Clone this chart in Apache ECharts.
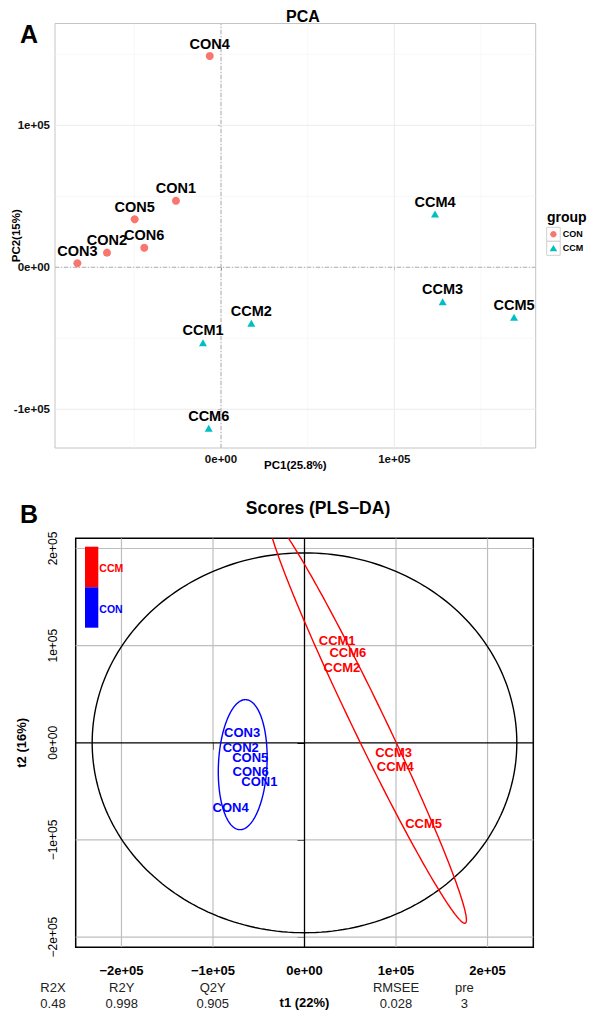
<!DOCTYPE html>
<html>
<head>
<meta charset="utf-8">
<script src="https://cdn.jsdelivr.net/npm/echarts@6/dist/echarts.min.js"></script>
<style>
  html, body { margin: 0; padding: 0; background: #fff; }
  #chart { width: 597px; height: 1014px; }
</style>
</head>
<body>
<div id="chart"></div>
<script>
// --- panel A: PCA scores ---
const conNames = ['CON1', 'CON2', 'CON3', 'CON4', 'CON5', 'CON6'];
const conPC1 = [-26000, -65800, -82900, -6500, -49800, -44300];
const conPC2 = [46900, 10300, 2800, 148800, 33800, 13800];
const ccmNames = ['CCM1', 'CCM2', 'CCM3', 'CCM4', 'CCM5', 'CCM6'];
const ccmPC1 = [-10400, 17500, 127900, 123500, 169100, -7100];
const ccmPC2 = [-53100, -39400, -24200, 37500, -35200, -113400];
const pcaTicksX = [0, 100000];
const pcaTicksY = [-100000, 0, 100000];
const pcaMinorX = [-50000, 50000, 150000];
const pcaMinorY = [-50000, 50000, 150000];

// --- panel B: PLS-DA scores ---
const plsConT1 = [-49300, -69700, -68100, -80700, -59300, -58800];
const plsConT2 = [-39600, -4900, 10500, -66100, -15200, -30000];
const plsCcmT1 = [35700, 40900, 97300, 99100, 130100, 47400];
const plsCcmT2 = [104800, 77700, -10100, -23900, -83100, 93100];
const plsTicks = [-200000, -100000, 0, 100000, 200000];

// ellipses: Hotelling T2, CON group, CCM group (centre, semi-axes, angle in degrees)
const ellCx = [0, -67500, 68900];
const ellCy = [0, -22500, 23200];
const ellA = [232000, 67000, 234600];
const ellB = [195500, 26500, 17600];
const ellAngle = [0, 87, -62.9];
const ellColors = ['#000000', '#0000ff', '#ff0000'];

// model summary
const statNames = ['R2X', 'R2Y', 'Q2Y', 'RMSEE', 'pre'];
const statValues = ['0.48', '0.998', '0.905', '0.028', '3'];

const FONT = '"Liberation Sans", Arial, Helvetica, sans-serif';

function sci(v, minus) {
  if (v === 0) return '0e+00';
  const e = Math.floor(Math.log10(Math.abs(v)));
  const m = Math.round(Math.abs(v) / Math.pow(10, e));
  return (v < 0 ? minus : '') + m + 'e+' + String(e).padStart(2, '0');
}

// straight reference lines drawn through the axes' own scales
function refLines(gi, dir, values, extent, color, width, dash) {
  return {
    type: 'custom',
    xAxisIndex: gi,
    yAxisIndex: gi,
    silent: true,
    clip: true,
    z: 1,
    data: values.map(v => [v, v]),
    renderItem: (params, api) => {
      const v = api.value(0);
      const p1 = dir === 'x' ? api.coord([v, extent[0]]) : api.coord([extent[0], v]);
      const p2 = dir === 'x' ? api.coord([v, extent[1]]) : api.coord([extent[1], v]);
      return {
        type: 'line',
        shape: { x1: p1[0], y1: p1[1], x2: p2[0], y2: p2[1] },
        style: { stroke: color, lineWidth: width, lineDash: dash || null }
      };
    }
  };
}

const pcaX = [-95800, 181600];
const pcaY = [-127300, 171700];
const plsX = [-250000, 250000];
const plsY = [-210500, 210500];

const chart = echarts.init(document.getElementById('chart'), null, { renderer: 'svg' });

chart.setOption({
  animation: false,
  textStyle: { fontFamily: FONT },
  title: [
    { text: 'PCA', left: 298, top: 3, textAlign: 'center',
      textStyle: { fontSize: 16, fontWeight: 'bold', color: '#000', fontFamily: FONT } },
    { text: 'Scores (PLS\u2212DA)', left: 313, top: 494, textAlign: 'center',
      textStyle: { fontSize: 17.5, fontWeight: 'bold', color: '#000', fontFamily: FONT } }
  ],
  grid: [
    { left: 55, top: 23.5, width: 480.7, height: 424.5, show: true,
      containLabel: false, outerBoundsMode: 'none',
      borderColor: '#c4c4c4', borderWidth: 1, backgroundColor: '#fff' },
    { left: 75.7, top: 538.3, width: 457.6, height: 409, show: true,
      containLabel: false, outerBoundsMode: 'none',
      borderColor: '#000', borderWidth: 1.5, backgroundColor: '#fff' }
  ],
  xAxis: [
    { gridIndex: 0, type: 'value', min: pcaX[0], max: pcaX[1],
      axisLine: { show: false }, splitLine: { show: false },
      axisTick: { customValues: pcaTicksX, length: 3, lineStyle: { color: '#333' } },
      axisLabel: { customValues: pcaTicksX, formatter: v => sci(v, '-'), margin: 5,
        fontSize: 11.5, fontWeight: 'bold', color: '#111', fontFamily: FONT },
      name: 'PC1(25.8%)', nameLocation: 'middle', nameGap: 11, nameMoveOverlap: false,
      nameTextStyle: { fontSize: 11.5, fontWeight: 'bold', color: '#000', fontFamily: FONT } },
    { gridIndex: 1, type: 'value', min: plsX[0], max: plsX[1],
      axisLine: { show: false }, splitLine: { show: false },
      axisTick: { customValues: plsTicks, length: 7, lineStyle: { color: '#000' } },
      axisLabel: { customValues: plsTicks, formatter: v => sci(v, '\u2212'), margin: 17,
        fontSize: 13, fontWeight: 'bold', color: '#000', fontFamily: FONT },
      name: 't1 (22%)', nameLocation: 'middle', nameGap: 49, nameMoveOverlap: false,
      nameTextStyle: { fontSize: 13, fontWeight: 'bold', color: '#000', fontFamily: FONT } }
  ],
  yAxis: [
    { gridIndex: 0, type: 'value', min: pcaY[0], max: pcaY[1],
      axisLine: { show: false }, splitLine: { show: false },
      axisTick: { customValues: pcaTicksY, length: 3, lineStyle: { color: '#333' } },
      axisLabel: { customValues: pcaTicksY, formatter: v => sci(v, '-'), margin: 5,
        fontSize: 11.5, fontWeight: 'bold', color: '#111', fontFamily: FONT },
      name: 'PC2(15%)', nameLocation: 'middle', nameGap: 33, nameMoveOverlap: false,
      nameTextStyle: { fontSize: 11.5, fontWeight: 'bold', color: '#000', fontFamily: FONT } },
    { gridIndex: 1, type: 'value', min: plsY[0], max: plsY[1],
      axisLine: { show: false }, splitLine: { show: false },
      axisTick: { customValues: plsTicks, length: 7, lineStyle: { color: '#000' } },
      axisLabel: { customValues: plsTicks, formatter: v => sci(v, '\u2212'), margin: 17, rotate: 90,
        fontSize: 12, color: '#000', fontFamily: FONT },
      name: 't2 (16%)', nameLocation: 'middle', nameGap: 48, nameMoveOverlap: false,
      nameTextStyle: { fontSize: 13, fontWeight: 'bold', color: '#000', fontFamily: FONT } }
  ],
  series: [
    // panel A grid
    refLines(0, 'x', pcaMinorX, pcaY, '#f4f4f4', 0.6),
    refLines(0, 'y', pcaMinorY, pcaX, '#f4f4f4', 0.6),
    refLines(0, 'x', pcaTicksX, pcaY, '#ebebeb', 1),
    refLines(0, 'y', pcaTicksY, pcaX, '#ebebeb', 1),
    refLines(0, 'x', [0], pcaY, '#a8a8a8', 0.9, [4, 2, 1, 2]),
    refLines(0, 'y', [0], pcaX, '#a8a8a8', 0.9, [4, 2, 1, 2]),
    {
      name: 'CON', type: 'scatter', xAxisIndex: 0, yAxisIndex: 0, z: 3,
      symbol: 'circle', symbolSize: 8,
      itemStyle: { color: '#F8766D', opacity: 1 },
      data: conNames.map((n, i) => ({ name: n, value: [conPC1[i], conPC2[i]] })),
      label: { show: true, position: 'top', distance: 1, formatter: '{b}',
        fontSize: 14.5, fontWeight: 'bold', color: '#000', fontFamily: FONT }
    },
    {
      name: 'CCM', type: 'scatter', xAxisIndex: 0, yAxisIndex: 0, z: 3,
      symbol: 'triangle', symbolSize: [8, 7],
      itemStyle: { color: '#00BFC4', opacity: 1 },
      data: ccmNames.map((n, i) => ({ name: n, value: [ccmPC1[i], ccmPC2[i]] })),
      label: { show: true, position: 'top', distance: 1.5, formatter: '{b}',
        fontSize: 14.5, fontWeight: 'bold', color: '#000', fontFamily: FONT }
    },
    // panel B grid
    refLines(1, 'x', plsTicks.filter(v => v !== 0), plsY, '#bebebe', 1.2),
    refLines(1, 'y', plsTicks.filter(v => v !== 0), plsX, '#bebebe', 1.2),
    refLines(1, 'x', [0], plsY, '#000', 1.3),
    refLines(1, 'y', [0], plsX, '#000', 1.3),
    {
      type: 'custom', xAxisIndex: 1, yAxisIndex: 1, silent: true, clip: true, z: 2,
      data: ellCx.map((c, i) => [c, ellCy[i], ellA[i], ellB[i], ellAngle[i]]),
      renderItem: (params, api) => {
        const cx = api.value(0), cy = api.value(1), a = api.value(2), b = api.value(3);
        const th = api.value(4) * Math.PI / 180;
        const pts = [];
        for (let k = 0; k <= 240; k++) {
          const t = 2 * Math.PI * k / 240;
          const u = a * Math.cos(t), w = b * Math.sin(t);
          pts.push(api.coord([cx + u * Math.cos(th) - w * Math.sin(th),
                              cy + u * Math.sin(th) + w * Math.cos(th)]));
        }
        return { type: 'polyline', shape: { points: pts },
          style: { stroke: ellColors[params.dataIndex], lineWidth: 1.4, fill: null } };
      }
    },
    {
      type: 'custom', xAxisIndex: 1, yAxisIndex: 1, silent: true, z: 4,
      data: conNames.map((n, i) => [plsConT1[i], plsConT2[i], n, '#0000ff'])
        .concat(ccmNames.map((n, i) => [plsCcmT1[i], plsCcmT2[i], n, '#ff0000'])),
      renderItem: (params, api) => {
        const p = api.coord([api.value(0), api.value(1)]);
        return { type: 'text', x: p[0], y: p[1],
          style: { text: api.value(2), fill: api.value(3), align: 'center', verticalAlign: 'middle',
            font: 'bold 13px ' + FONT } };
      }
    }
  ],
  graphic: [
    { type: 'text', left: 20, top: 21, z: 100, style: { text: 'A', font: 'bold 25px ' + FONT, fill: '#000' } },
    { type: 'text', left: 20, top: 501, z: 100, style: { text: 'B', font: 'bold 25px ' + FONT, fill: '#000' } },
    // panel A legend
    { type: 'text', x: 547, y: 217, z: 100, style: { text: 'group', font: 'bold 14px ' + FONT, fill: '#000', verticalAlign: 'middle' } },
    { type: 'rect', z: 100, shape: { x: 546.7, y: 227.3, width: 13.5, height: 14 }, style: { fill: '#fff', stroke: '#d0d0d0', lineWidth: 1 } },
    { type: 'rect', z: 100, shape: { x: 546.7, y: 241.3, width: 13.5, height: 14 }, style: { fill: '#fff', stroke: '#d0d0d0', lineWidth: 1 } },
    { type: 'circle', z: 101, shape: { cx: 553.4, cy: 234.3, r: 3.2 }, style: { fill: '#F8766D' } },
    { type: 'polygon', z: 101, shape: { points: [[553.4, 245], [557.2, 251.3], [549.6, 251.3]] }, style: { fill: '#00BFC4' } },
    { type: 'text', z: 100, x: 562.7, y: 234.3, style: { text: 'CON', font: 'bold 9px ' + FONT, fill: '#000', verticalAlign: 'middle' } },
    { type: 'text', z: 100, x: 562.7, y: 248.3, style: { text: 'CCM', font: 'bold 9px ' + FONT, fill: '#000', verticalAlign: 'middle' } },
    // panel B legend
    { type: 'rect', z: 100, shape: { x: 85, y: 546.7, width: 13.3, height: 40.6 }, style: { fill: '#ff0000' } },
    { type: 'rect', z: 100, shape: { x: 85, y: 587.3, width: 13.3, height: 40.4 }, style: { fill: '#0000ff' } },
    { type: 'text', z: 100, x: 99.3, y: 568.3, style: { text: 'CCM', font: 'bold 10.5px ' + FONT, fill: '#ff0000', verticalAlign: 'middle' } },
    { type: 'text', z: 100, x: 99.3, y: 609, style: { text: 'CON', font: 'bold 10.5px ' + FONT, fill: '#0000ff', verticalAlign: 'middle' } }
  ].concat(statNames.map((n, i) => {
    const cx = [53, 121.7, 212.7, 396, 464.3][i];
    return [
      { type: 'text', z: 100, x: cx, y: 987.3, style: { text: n, font: '13px ' + FONT, fill: '#222', align: 'center', verticalAlign: 'middle' } },
      { type: 'text', z: 100, x: cx, y: 1003.3, style: { text: statValues[i], font: '13px ' + FONT, fill: '#222', align: 'center', verticalAlign: 'middle' } }
    ];
  }).flat())
});

window.addEventListener('resize', () => chart.resize());
</script>
</body>
</html>
